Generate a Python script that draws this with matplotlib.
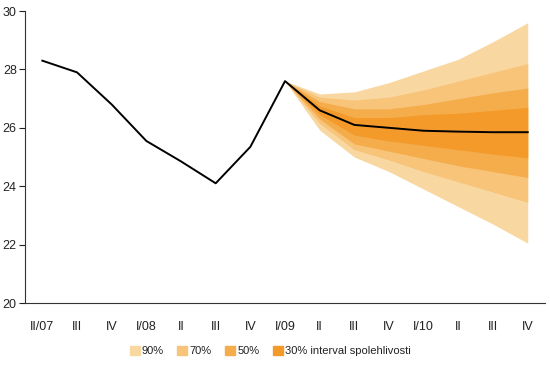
import numpy as np
import matplotlib
matplotlib.use('Agg')
import matplotlib.pyplot as plt
from matplotlib.patches import Patch

plt.rcParams['font.family'] = ['Liberation Sans', 'DejaVu Sans']

labels = ['II/07', 'III', 'IV', 'I/08', 'II', 'III', 'IV', 'I/09',
          'II', 'III', 'IV', 'I/10', 'II', 'III', 'IV']
values = [28.3, 27.9, 26.8, 25.55, 24.85, 24.1, 25.35, 27.6,
          26.6, 26.1, 26.0, 25.9, 25.87, 25.85, 25.85]

# fan chart from I/09 to IV/10
fan_start = 7
up90 = [27.6, 27.16, 27.23, 27.55, 27.95, 28.35, 28.95, 29.6]
lo90 = [27.6, 25.92, 25.0, 24.5, 23.9, 23.3, 22.7, 22.05]
up70 = [27.6, 27.05, 26.95, 27.05, 27.3, 27.6, 27.9, 28.2]
lo70 = [27.6, 26.15, 25.25, 24.9, 24.5, 24.15, 23.8, 23.45]
up50 = [27.6, 26.9, 26.65, 26.65, 26.8, 27.0, 27.2, 27.36]
lo50 = [27.6, 26.3, 25.45, 25.2, 24.95, 24.7, 24.5, 24.3]
up30 = [27.6, 26.75, 26.35, 26.35, 26.45, 26.5, 26.6, 26.7]
lo30 = [27.6, 26.45, 25.75, 25.55, 25.4, 25.25, 25.1, 24.97]

colors = {'90%': '#f9d7a0', '70%': '#f7c479', '50%': '#f5ad4b', '30%': '#f39a2a'}

fig = plt.figure(figsize=(5.5, 3.68), dpi=100)
ax = fig.add_axes([0.0455, 0.1766, 0.9455, 0.7934])

x = np.arange(len(labels))
xf = x[fan_start:]
ax.fill_between(xf, lo90, up90, color=colors['90%'], lw=0)
ax.fill_between(xf, lo70, up70, color=colors['70%'], lw=0)
ax.fill_between(xf, lo50, up50, color=colors['50%'], lw=0)
ax.fill_between(xf, lo30, up30, color=colors['30%'], lw=0)
ax.plot(x, values, color='black', lw=1.4)

ax.set_xlim(-0.5, len(labels) - 0.5)
ax.set_ylim(20, 30)
ax.set_yticks(range(20, 31, 2))
ax.set_xticks(x)
ax.set_xticklabels(labels)
ax.tick_params(axis='x', length=0, pad=13, labelsize=9, colors='#222222')
ax.tick_params(axis='y', length=4, width=0.8, pad=2, labelsize=9, colors='#222222')
for s in ['top', 'right']:
    ax.spines[s].set_visible(False)
for s in ['left', 'bottom']:
    ax.spines[s].set_color('#333333')
    ax.spines[s].set_linewidth(0.8)

handles = [Patch(color=colors[k]) for k in colors]
leg_labels = ['90%', '70%', '50%', '30% interval spolehlivosti']
fig.legend(handles, leg_labels, loc='center', bbox_to_anchor=(0.491, 0.046),
           ncol=4, frameon=False, fontsize=8, handlelength=0.9, handleheight=0.9,
           handletextpad=0.2, columnspacing=1.2, labelcolor='#222222')

fig.savefig('out.png', dpi=100)
